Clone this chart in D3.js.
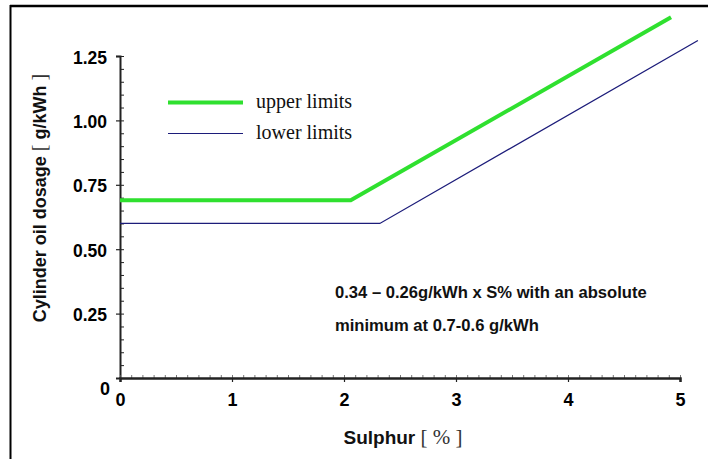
<!DOCTYPE html>
<html>
<head>
<meta charset="utf-8">
<title>Cylinder oil dosage vs sulphur</title>
<style>
  body { margin: 0; background: #fff; }
  .tick text { font-family: Arial, "Liberation Sans", sans-serif; font-weight: bold; }
</style>
</head>
<body>
<script src="https://cdn.jsdelivr.net/npm/d3@7"></script>
<script>
// data
var upperSulphur = [0, 2.06, 4.92];
var upperDosage  = [0.69, 0.69, 1.40];
var lowerSulphur = [0, 2.32, 5.16];
var lowerDosage  = [0.60, 0.60, 1.31];
var xTicks = [0, 1, 2, 3, 4, 5];
var yTicks = [0.25, 0.5, 0.75, 1.0, 1.25];
var yTickLabels = ["0.25", "0.50", "0.75", "1.00", "1.25"];
var seriesNames = ["upper limits", "lower limits"];
var noteLines = ["0.34 \u2013 0.26g/kWh x S% with an absolute", "minimum at 0.7-0.6 g/kWh"];

var width = 708, height = 459;
var sans = "Arial, 'Liberation Sans', sans-serif";
var serif = "'Times New Roman', 'Liberation Serif', serif";

var svg = d3.select("body").append("svg")
    .attr("width", width).attr("height", height);

// frame (top + left edges visible)
svg.append("line").attr("x1", 10).attr("y1", 6).attr("x2", width).attr("y2", 6)
   .attr("stroke", "#000").attr("stroke-width", 2.5);
svg.append("line").attr("x1", 10.5).attr("y1", 5).attr("x2", 10.5).attr("y2", height)
   .attr("stroke", "#000").attr("stroke-width", 2);

var x = d3.scaleLinear().domain([0, 5]).range([120, 680]);
var y = d3.scaleLinear().domain([0, 1.25]).range([378, 56]);

// y axis: minor ticks to the right, major ticks across
svg.append("g").attr("transform", "translate(120,0)")
   .call(d3.axisRight(y).tickValues(d3.range(0, 1.2501, 0.05)).tickSize(4).tickFormat(""))
   .call(function(g){ g.select(".domain").remove(); g.selectAll("line").attr("stroke", "#222").attr("stroke-width", 1); });
var yAxis = svg.append("g").attr("transform", "translate(120,0)")
   .call(d3.axisLeft(y).tickValues(yTicks).tickSize(4).tickPadding(9)
         .tickFormat(function(d, i){ return yTickLabels[i]; }));
yAxis.select(".domain").attr("stroke", "#222").attr("stroke-width", 2);
yAxis.selectAll("line").attr("stroke", "#222").attr("stroke-width", 1.2);
yAxis.selectAll("text").attr("font-size", 17.5).attr("fill", "#000").attr("dy", "0.4em");

// "0" of the y axis sits a bit low
svg.append("text").attr("x", 110).attr("y", y(0) + 17)
   .attr("text-anchor", "end").attr("font-family", sans).attr("font-weight", "bold")
   .attr("font-size", 18).text("0");

// x axis: minor ticks upward, major ticks downward
svg.append("g").attr("transform", "translate(0,378)")
   .call(d3.axisTop(x).tickValues(d3.range(0, 5.001, 0.1)).tickSize(3).tickFormat(""))
   .call(function(g){ g.select(".domain").remove(); g.selectAll("line").attr("stroke", "#555").attr("stroke-width", 0.8); });
var xAxis = svg.append("g").attr("transform", "translate(0,378)")
   .call(d3.axisBottom(x).tickValues(xTicks).tickSize(4).tickPadding(11).tickFormat(d3.format("d")));
xAxis.select(".domain").attr("stroke", "#222").attr("stroke-width", 2.5);
xAxis.selectAll("line").attr("stroke", "#222").attr("stroke-width", 1.2);
xAxis.selectAll("text").attr("font-size", 18).attr("fill", "#000");

// lines
var line = d3.line().x(function(d){ return x(d[0]); }).y(function(d){ return y(d[1]); });
svg.append("path").datum(d3.zip(lowerSulphur, lowerDosage))
   .attr("d", line).attr("fill", "none").attr("stroke", "#1c1c7a").attr("stroke-width", 1.3);
svg.append("path").datum(d3.zip(upperSulphur, upperDosage))
   .attr("d", line).attr("fill", "none").attr("stroke", "#2fe02f").attr("stroke-width", 4);

// legend
var legend = svg.append("g");
[{c: "#2fe02f", w: 4, y: 102.5}, {c: "#1c1c7a", w: 1.2, y: 133.5}].forEach(function(s, i){
  legend.append("line").attr("x1", 168).attr("x2", 243).attr("y1", s.y).attr("y2", s.y)
    .attr("stroke", s.c).attr("stroke-width", s.w);
  legend.append("text").attr("x", 256).attr("y", s.y + 5.5)
    .attr("font-family", serif).attr("font-size", 20).attr("fill", "#111").text(seriesNames[i]);
});

// note
svg.selectAll(".note").data(noteLines).enter().append("text")
   .attr("class", "note").attr("x", 335).attr("y", function(d, i){ return 298 + i * 33; })
   .attr("font-family", sans).attr("font-weight", "bold").attr("font-size", 16.6)
   .attr("fill", "#111").text(function(d){ return d; });

// axis titles
var xt = svg.append("text").attr("x", 403).attr("y", 444).attr("text-anchor", "middle")
   .attr("font-size", 19).attr("fill", "#111");
xt.append("tspan").attr("font-family", sans).attr("font-weight", "bold").text("Sulphur");
xt.append("tspan").attr("font-family", serif).attr("font-size", 21).attr("fill", "#333").text("  [ % ]");

var yt = svg.append("text").attr("transform", "translate(46,198) rotate(-90)")
   .attr("text-anchor", "middle").attr("font-size", 18).attr("fill", "#111");
yt.append("tspan").attr("font-family", sans).attr("font-weight", "bold").text("Cylinder oil dosage");
yt.append("tspan").attr("font-family", serif).attr("font-size", 20).attr("fill", "#333").text("  [ ");
yt.append("tspan").attr("font-family", sans).attr("font-weight", "bold").text("g/kWh");
yt.append("tspan").attr("font-family", serif).attr("font-size", 20).attr("fill", "#333").text(" ]");
</script>
</body>
</html>
